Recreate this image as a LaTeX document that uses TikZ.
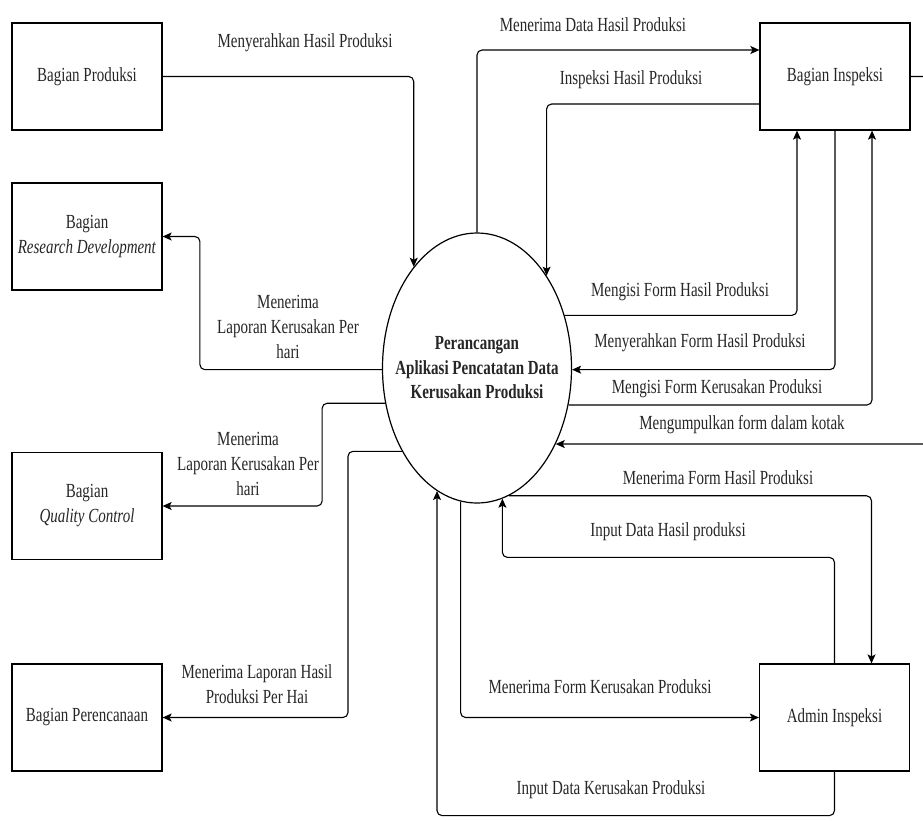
\documentclass[tikz,border=0pt]{standalone}
\usepackage{fontspec}
\setmainfont{Liberation Serif}[FakeStretch=0.75]
\usepackage{tikz}
\usetikzlibrary{arrows.meta}
\usetikzlibrary{shapes.geometric}

\begin{document}
\begin{tikzpicture}[x=1pt, y=-1pt,
	>={Stealth[length=9pt,width=8pt,inset=2pt]},
	every node/.style={font=\fontsize{20}{25}\selectfont, text=black!85},
	entity/.style={rectangle, draw, line width=1.2pt, minimum width=150pt, minimum height=107pt, inner sep=0pt},
	flow/.style={->, line width=1.1pt, rounded corners=5pt},
	lbl/.style={align=center, inner sep=1pt}]
				\useasboundingbox (0,0) rectangle (923,820);
				\clip (0,0) rectangle (923,820);
				
				\node[ellipse, draw, line width=1.2pt, minimum width=189pt, minimum height=270pt, inner xsep=-15pt, inner ysep=0pt, align=center, font=\fontsize{20}{24.5}\selectfont\bfseries] (proc) at (477,368) {Perancangan\\Aplikasi Pencatatan Data\\Kerusakan Produksi};
				
				\node[entity] (prod) at (87,76.5) {Bagian Produksi};
				\node[entity, align=center] (rnd) at (87,236.5) {Bagian\\\textit{Research Development}};
				\node[entity, align=center] (qc) at (87,506) {Bagian\\\textit{Quality Control}};
				\node[entity] (plan) at (87,717.5) {Bagian Perencanaan};
				\node[entity] (insp) at (835,76.5) {Bagian Inspeksi};
				\node[entity] (admin) at (834.5,717.5) {Admin Inspeksi};
				
				\draw[flow] (prod) -| (proc.122.9);
				\draw[flow] (proc.181.2) -- ++(-182,0) |- (rnd);
				\draw[flow] (proc.201.1) -- ++(-63,0) |- (qc);
				\draw[flow] (proc.228.2) -- ++(-54,0) |- (plan);
				\draw[flow] (proc.north) |- ([yshift=26.5pt]insp.west);
				\draw[flow] ([yshift=-27.5pt]insp.west) -| (proc.53);
				\draw[flow] (proc.31.5) -| ([xshift=-38pt]insp.south);
				\draw[flow] (insp.south) |- (proc.-1.2);
				\draw[flow] (proc.-22.8) -| ([xshift=37pt]insp.south);
				\draw[flow] (insp.east) -- ++(30,0) |- (proc.-44.9);
				\draw[flow] (proc.-76.9) -| ([xshift=37pt]admin.north);
				\draw[flow] (admin.north) -- ++(0,-106) -| (proc.-79.6);
				\draw[flow] (proc.263.1) |- (admin);
				\draw[flow] (admin.south) -- ++(0,44) -| (proc.252.4);
				
				\node[lbl] (t1) at (305,43) {Menyerahkan Hasil Produksi};
				\node[lbl] (t2) at (288,327) {Menerima\\Laporan Kerusakan Per\\hari};
				\node[lbl] (t3) at (248,464) {Menerima\\Laporan Kerusakan Per\\hari};
				\node[lbl] (t4) at (257,684) {Menerima Laporan Hasil\\Produksi Per Hai};
				\node[lbl] (t5) at (593,25) {Menerima Data Hasil Produksi};
				\node[lbl] (t6) at (631,80) {Inspeksi Hasil Produksi};
				\node[lbl] (t7) at (680,292) {Mengisi Form Hasil Produksi};
				\node[lbl] (t8) at (700,343) {Menyerahkan Form Hasil Produksi};
				\node[lbl] (t9) at (717,389) {Mengisi Form Kerusakan Produksi};
				\node[lbl] (t10) at (742,425) {Mengumpulkan form dalam kotak};
				\node[lbl] (t11) at (718,478) {Menerima Form Hasil Produksi};
				\node[lbl] (t12) at (668,532) {Input Data Hasil produksi};
				\node[lbl] (t13) at (600,687) {Menerima Form Kerusakan Produksi};
				\node[lbl] (t14) at (611,790) {Input Data Kerusakan Produksi};
			\end{tikzpicture}
\end{document}
